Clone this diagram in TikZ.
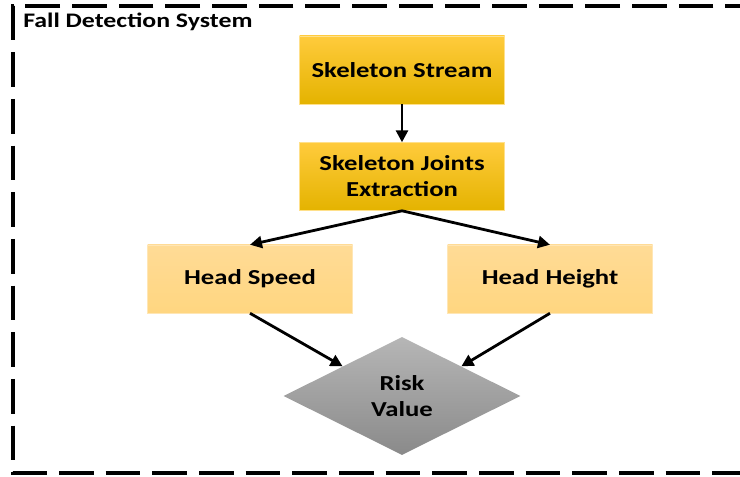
\documentclass[tikz,border=0pt]{standalone}
\usepackage{fontspec}
\setmainfont{Carlito}[FakeStretch=1.25]
\usetikzlibrary{arrows.meta,positioning,shapes.geometric}
\definecolor{goldtop}{RGB}{255,203,60}
\definecolor{goldbot}{RGB}{228,179,0}
\definecolor{lighttop}{RGB}{255,219,150}
\definecolor{lightbot}{RGB}{255,214,128}
\definecolor{greytop}{RGB}{182,182,182}
\definecolor{greybot}{RGB}{138,138,138}

\begin{document}
\begin{tikzpicture}[
    x=0.75pt, y=-0.75pt,
    node distance=28.5pt,
    mainbox/.style={rectangle, top color=goldtop, bottom color=goldbot, draw=goldtop!60!white, line width=0.4pt, minimum width=153.75pt, minimum height=51pt, align=center, font=\fontsize{16}{19.5}\selectfont\bfseries},
    lightbox/.style={mainbox, top color=lighttop, bottom color=lightbot, draw=lighttop!70!white},
    riskdiamond/.style={diamond, top color=greytop, bottom color=greybot, minimum width=177.75pt, minimum height=88.5pt, inner sep=0pt, align=center, font=\fontsize{16}{19.5}\selectfont\bfseries},
    arrow/.style={-{Triangle[length=9pt, width=9pt]}, line width=2.1pt, black}
]
    \useasboundingbox (0,0) rectangle (740,477);
    \draw[line width=2.6pt, dash pattern=on 26pt off 9pt] (760,6) -- (13,6) -- (13,473) -- (760,473);
    \node[anchor=west, font=\fontsize{15.5}{18}\selectfont\bfseries, inner sep=0pt] (title) at (23,22) {Fall Detection System};

    \node[mainbox] (stream) at (402,70) {Skeleton Stream};
    \node[mainbox, below=of stream] (joints) {Skeleton Joints\\Extraction};
    \node[lightbox] (speed) at (250,279) {Head Speed};
    \node[lightbox] (height) at (550,279) {Head Height};
    \node[riskdiamond] (risk) at (402,396) {Risk\\Value};

    \draw[arrow] (stream) -- (joints);
    \draw[arrow] (joints.south) -- (speed.north);
    \draw[arrow] (joints.south) -- (height.north);
    \draw[arrow] (speed.south) -- (risk.north west);
    \draw[arrow] (height.south) -- (risk.north east);
\end{tikzpicture}
\end{document}
